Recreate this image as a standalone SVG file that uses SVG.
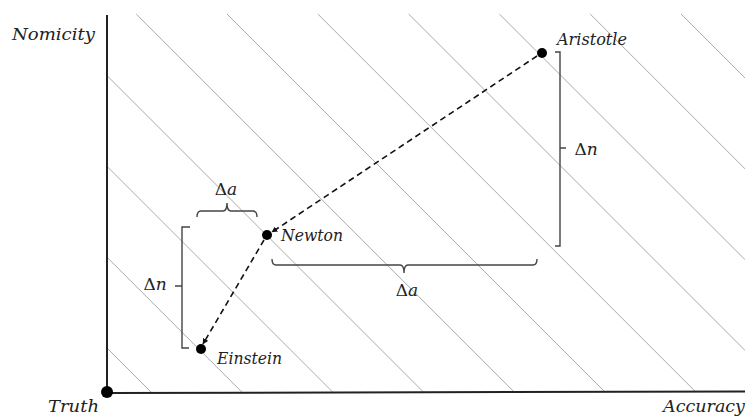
<svg xmlns="http://www.w3.org/2000/svg" width="745" height="417" viewBox="0 0 745 417">
<defs>
<style>
.hatch{stroke:#aaaaaa;stroke-width:1;fill:none}
.axis{stroke:#222;stroke-width:2;fill:none}
.brace{stroke:#444;stroke-width:1.4;fill:none}
.arrow{stroke:#111;stroke-width:1.6;stroke-dasharray:6 4;fill:none;marker-end:url(#ah)}
.lbl{font-family:"DejaVu Serif","Liberation Serif",serif;font-style:italic;font-size:17px;fill:#222}
.up{font-style:normal}
.dot{fill:#000}
</style>
<marker id="ah" viewBox="0 0 10 10" refX="9" refY="5" markerWidth="6" markerHeight="6" orient="auto" markerUnits="userSpaceOnUse">
<path d="M0,0 L10,5 L0,10 z" fill="#111"/>
</marker>
</defs>
<rect width="745" height="417" fill="#fff"/>
<g id="hatching">
<line class="hatch" x1="107" y1="348" x2="151" y2="392"/>
<line class="hatch" x1="107" y1="257.2" x2="241.8" y2="392"/>
<line class="hatch" x1="107" y1="166.4" x2="332.6" y2="392"/>
<line class="hatch" x1="107" y1="75.6" x2="423.4" y2="392"/>
<line class="hatch" x1="136.2" y1="14" x2="514.2" y2="392"/>
<line class="hatch" x1="227" y1="14" x2="605" y2="392"/>
<line class="hatch" x1="317.8" y1="14" x2="695.8" y2="392"/>
<line class="hatch" x1="408.6" y1="14" x2="745" y2="350.4"/>
<line class="hatch" x1="499.4" y1="14" x2="745" y2="259.6"/>
<line class="hatch" x1="590.2" y1="14" x2="745" y2="168.8"/>
<line class="hatch" x1="681" y1="14" x2="745" y2="78"/>
</g>
<g id="axes">
<line class="axis" x1="107" y1="15" x2="107" y2="393"/>
<line class="axis" x1="107" y1="393" x2="745" y2="391.5"/>
<text class="lbl" x="12" y="40" textLength="83" lengthAdjust="spacingAndGlyphs">Nomicity</text>
<text class="lbl" x="48" y="412" textLength="51" lengthAdjust="spacingAndGlyphs">Truth</text>
<text class="lbl" x="663" y="412" textLength="82" lengthAdjust="spacingAndGlyphs">Accuracy</text>
</g>
<g id="truth">
<circle class="dot" cx="107" cy="392" r="6"/>
</g>
<g id="aristotle">
<circle class="dot" cx="542" cy="53" r="5"/>
<text class="lbl" x="557" y="45" textLength="70" lengthAdjust="spacingAndGlyphs">Aristotle</text>
</g>
<g id="newton">
<circle class="dot" cx="267" cy="235" r="5"/>
<text class="lbl" x="281" y="241" textLength="62" lengthAdjust="spacingAndGlyphs">Newton</text>
</g>
<g id="einstein">
<circle class="dot" cx="201" cy="349" r="5"/>
<text class="lbl" x="217" y="364" textLength="65" lengthAdjust="spacingAndGlyphs">Einstein</text>
</g>
<g id="braces">
<path class="brace" d="M197,217 Q197,211 201,211 L223,211 Q227,211 227,203 Q227,211 231,211 L253,211 Q257,211 257,217"/>
<text class="lbl" x="226" y="195" text-anchor="middle"><tspan class="up">Δ</tspan>a</text>
<path class="brace" d="M190,227 L182,227 L182,286 L175,286 M182,286 L182,348 L189,348"/>
<text class="lbl" x="155" y="290" text-anchor="middle"><tspan class="up">Δ</tspan>n</text>
<path class="brace" d="M555,52 L560,52 L560,148 L566,148 M560,148 L560,246 L555,246"/>
<text class="lbl" x="586" y="155" text-anchor="middle"><tspan class="up">Δ</tspan>n</text>
<path class="brace" d="M272,259 Q272,265 276,265 L400,265 Q404,265 404,273 Q404,265 408,265 L533,265 Q537,265 537,259"/>
<text class="lbl" x="407" y="296" text-anchor="middle"><tspan class="up">Δ</tspan>a</text>
</g>
<g id="connectors">
<line class="arrow" x1="537" y1="56" x2="272" y2="232"/>
<line class="arrow" x1="264" y1="240" x2="203" y2="344"/>
</g>
</svg>
